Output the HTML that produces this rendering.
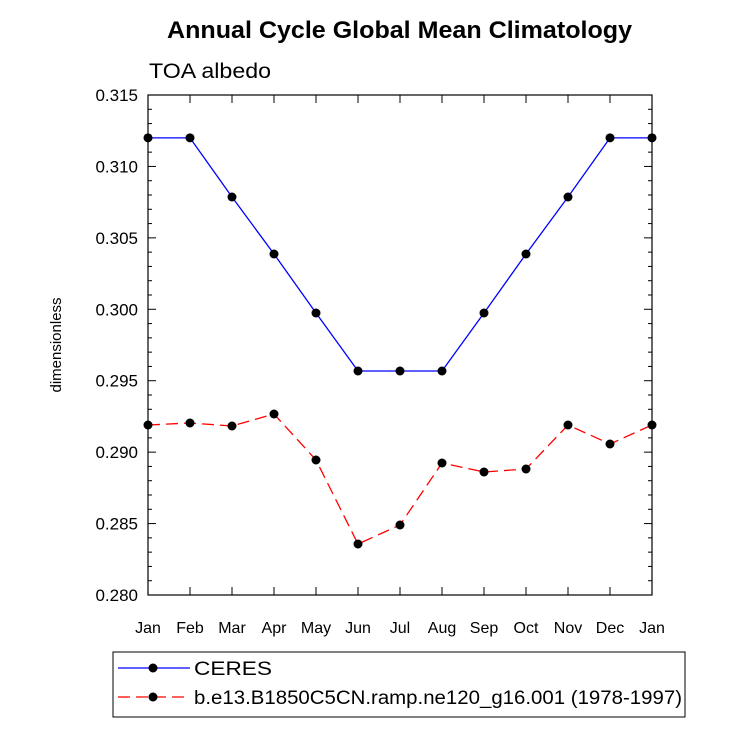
<!DOCTYPE html>
<html><head><meta charset="utf-8"><style>
body{margin:0;background:#fff;}
text{font-family:"Liberation Sans",sans-serif;fill:#000;}
</style></head><body>
<svg id="chart" width="733" height="725" xmlns="http://www.w3.org/2000/svg">
<text x="167" y="38" font-size="24" font-weight="bold" textLength="465" lengthAdjust="spacingAndGlyphs">Annual Cycle Global Mean Climatology</text>
<text x="149" y="78" font-size="21" textLength="122" lengthAdjust="spacingAndGlyphs">TOA albedo</text>
<text transform="translate(61,345) rotate(-90)" text-anchor="middle" font-size="15">dimensionless</text>
<g id="axes"></g>
<g id="series"></g>
<rect x="113" y="652" width="572" height="65" fill="none" stroke="#000" stroke-width="1"/>
<g>
<line x1="118" y1="668" x2="190" y2="668" stroke="#0000ff" stroke-width="1.3"/>
<circle cx="153" cy="668" r="4.5" fill="#000"/>
<text x="194" y="675" font-size="19" textLength="78" lengthAdjust="spacingAndGlyphs">CERES</text></g>
<g>
<line x1="118" y1="697" x2="190" y2="697" stroke="#ff0000" stroke-width="1.3" stroke-dasharray="12,6"/>
<circle cx="153" cy="697" r="4.5" fill="#000"/>
<text x="194" y="704" font-size="19" textLength="488" lengthAdjust="spacingAndGlyphs">b.e13.B1850C5CN.ramp.ne120_g16.001 (1978-1997)</text></g>
</svg>
<script>
const months=["Jan","Feb","Mar","Apr","May","Jun","Jul","Aug","Sep","Oct","Nov","Dec","Jan"];
const ceres=[0.3120,0.3120,0.30786,0.30387,0.29974,0.29568,0.29568,0.29568,0.29974,0.30387,0.30786,0.3120,0.3120];
const model=[0.2919,0.29204,0.29183,0.29267,0.28945,0.28357,0.28490,0.28924,0.28861,0.28882,0.2919,0.29057,0.2919];
const yTicks=["0.280","0.285","0.290","0.295","0.300","0.305","0.310","0.315"];
const L=148,R=652,T=95,B=595,yMin=0.280,yMax=0.315;
const NS="http://www.w3.org/2000/svg";
const xs=i=>L+(R-L)*i/(months.length-1);
const ys=v=>B-(v-yMin)/(yMax-yMin)*(B-T);
function mk(tag,attrs,parent){const e=document.createElementNS(NS,tag);for(const k in attrs)e.setAttribute(k,attrs[k]);parent.appendChild(e);return e;}
const ax=document.getElementById('axes');
const frame=mk('rect',{x:L,y:T,width:R-L,height:B-T,fill:'none',stroke:'#000','stroke-width':1.2},ax);


months.forEach((m,i)=>{const x=xs(i);
mk('line',{x1:x,y1:B,x2:x,y2:B-8,stroke:'#000'},ax);
mk('line',{x1:x,y1:T,x2:x,y2:T+8,stroke:'#000'},ax);
const t=mk('text',{x:x,y:B+38,'text-anchor':'middle','font-size':16},ax);t.textContent=m;

});
for(let k=0;k<=35;k++){const v=yMin+k*0.001,y=ys(v),maj=k%5===0,len=maj?8:4;
mk('line',{x1:L,y1:y,x2:L+len,y2:y,stroke:'#000'},ax);
mk('line',{x1:R,y1:y,x2:R-len,y2:y,stroke:'#000'},ax);}
yTicks.forEach(s=>{const y=ys(parseFloat(s));
const t=mk('text',{x:L-10,y:y+6,'text-anchor':'end','font-size':17},ax);t.textContent=s;

});
const sg=document.getElementById('series');
function series(vals,color,dash,name){
const g=mk('g',{},sg);


const pts=vals.map((v,i)=>xs(i)+','+ys(v)).join(' ');
const a={points:pts,fill:'none',stroke:color,'stroke-width':1.3};if(dash)a['stroke-dasharray']=dash;
mk('polyline',a,g);
vals.forEach((v,i)=>{const c=mk('circle',{cx:xs(i),cy:ys(v),r:4.5,fill:'#000'},g);

});}
series(ceres,'#0000ff',null,'ceres-series');
series(model,'#ff0000','12,6','model-series');
</script>
</body></html>
